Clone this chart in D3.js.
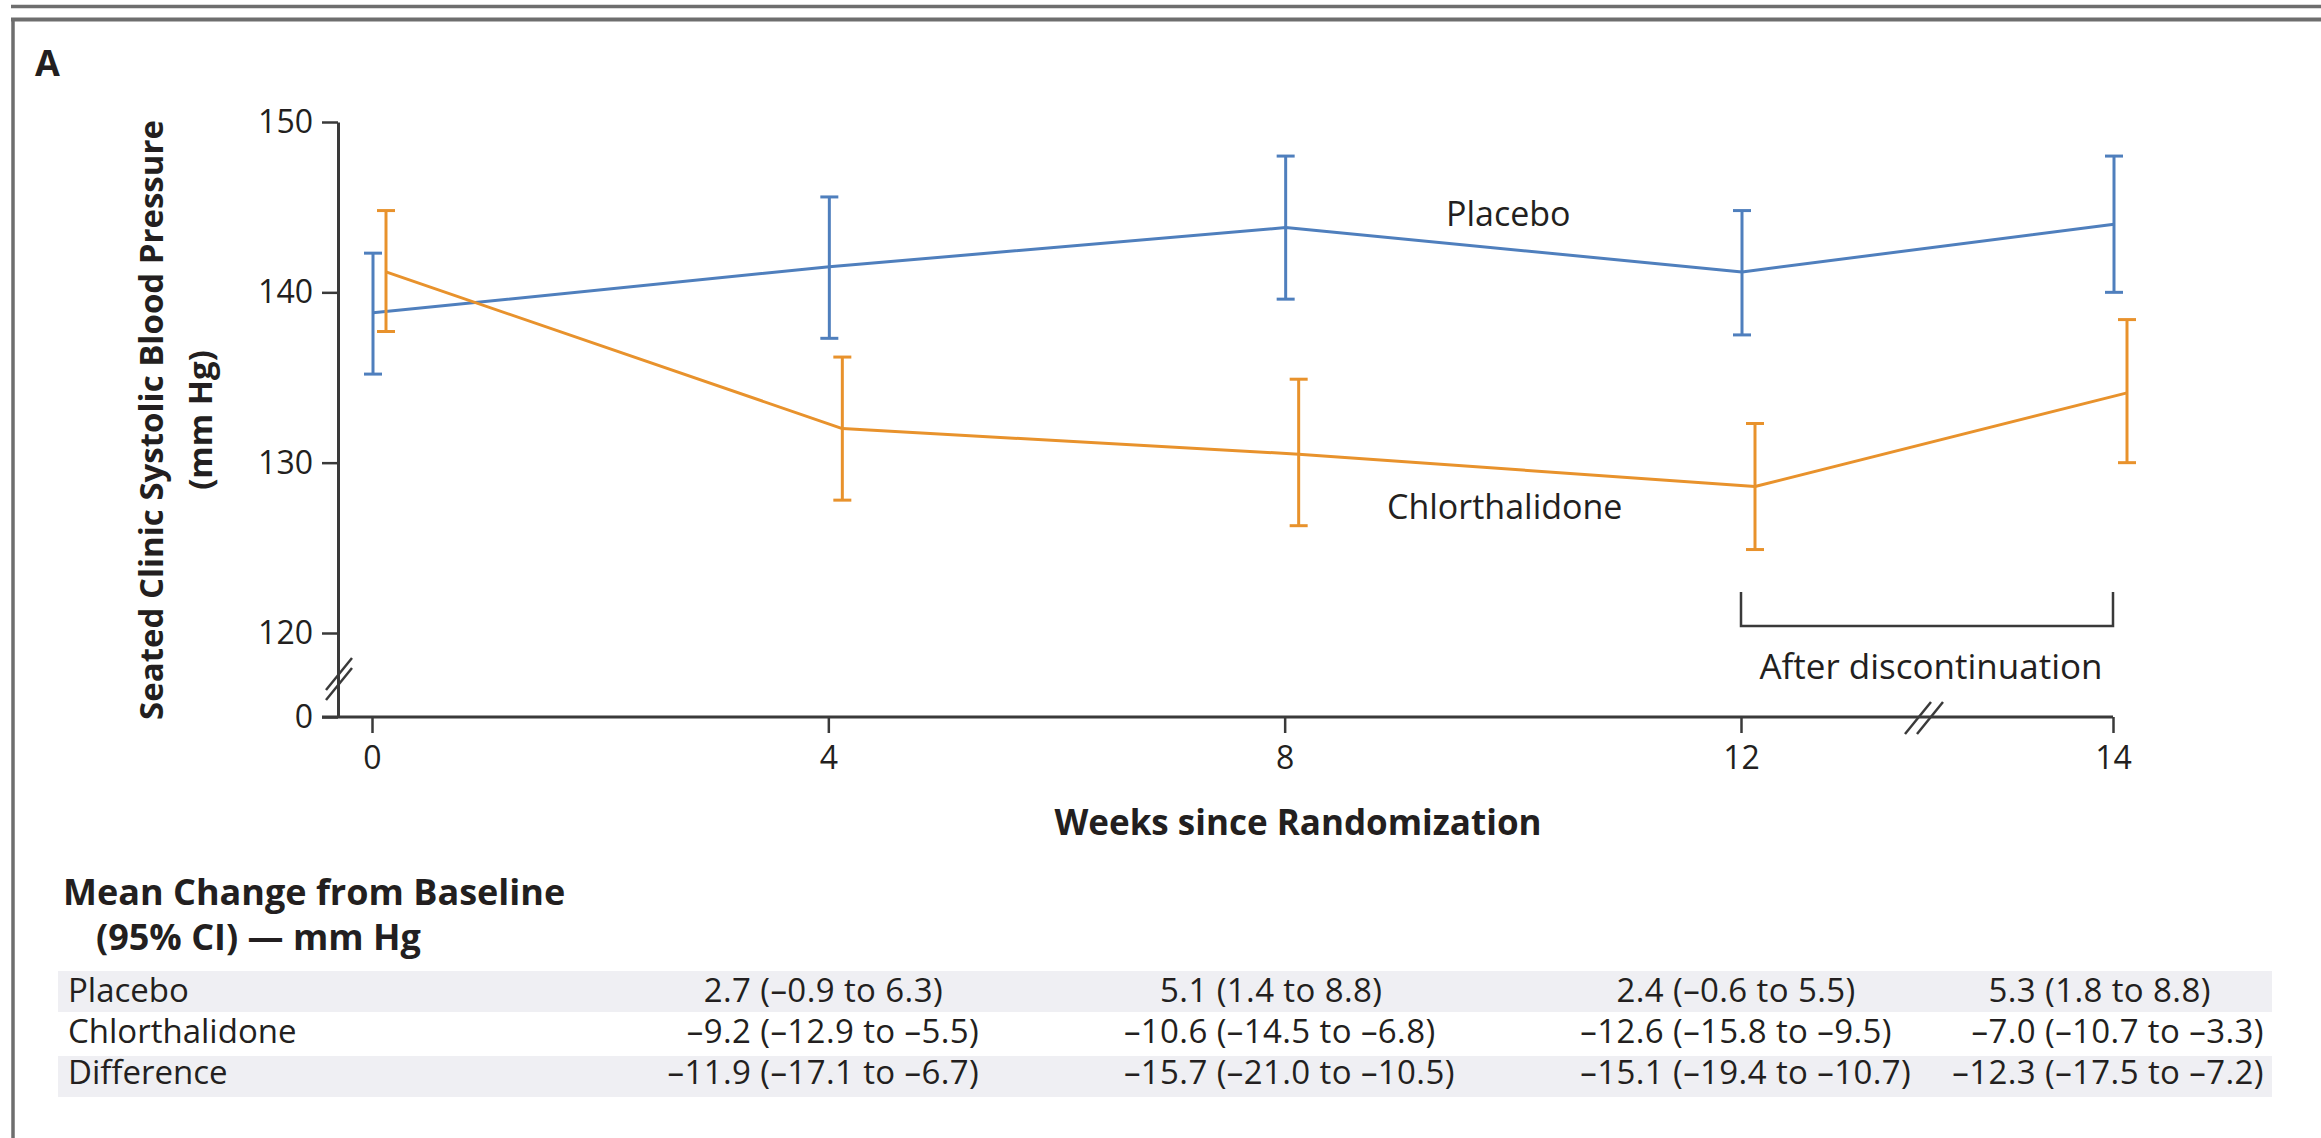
<!DOCTYPE html>
<html>
<head>
<meta charset="utf-8">
<script src="https://cdn.jsdelivr.net/npm/d3@7"></script>
<style>
  html, body { margin: 0; padding: 0; background: #ffffff; }
  svg { display: block; }
  text { font-family: "Open Sans", "Noto Sans", sans-serif; fill: #231f20; }
</style>
</head>
<body>
<svg id="chart" width="2321" height="1138"></svg>
<script>
// ---- data ----
const weeks = [0, 4, 8, 12, 14];
const xTickLabels = ["0", "4", "8", "12", "14"];
const yTicks = [0, 120, 130, 140, 150];

const placeboMean = [138.8, 141.5, 143.8, 141.2, 144.0];
const placeboLow  = [135.2, 137.3, 139.6, 137.5, 140.0];
const placeboHigh = [142.3, 145.6, 148.0, 144.8, 148.0];

const chlorMean = [141.2, 132.0, 130.5, 128.6, 134.1];
const chlorLow  = [137.7, 127.8, 126.3, 124.9, 130.0];
const chlorHigh = [144.8, 136.2, 134.9, 132.3, 138.4];

// mean change from baseline table (weeks 4, 8, 12, 14)
const tableWeeks = [4, 8, 12, 14];
const tableRows = ["Placebo", "Chlorthalidone", "Difference"];
const changeEstimate = [
  [2.7, 5.1, 2.4, 5.3],
  [-9.2, -10.6, -12.6, -7.0],
  [-11.9, -15.7, -15.1, -12.3]
];
const changeLower = [
  [-0.9, 1.4, -0.6, 1.8],
  [-12.9, -14.5, -15.8, -10.7],
  [-17.1, -21.0, -19.4, -17.5]
];
const changeUpper = [
  [6.3, 8.8, 5.5, 8.8],
  [-5.5, -6.8, -9.5, -3.3],
  [-6.7, -10.5, -10.7, -7.2]
];

// ---- setup ----
const svg = d3.select("#chart");
const frameColor = "#6e6e6e";
const axisColor = "#3a3a3a";
const blue = "#4f7fbd";
const orange = "#e8922c";

// broken axes: piecewise linear scales
const x = d3.scaleLinear().domain([0, 12, 14]).range([372, 1741, 2113]);
const y = d3.scaleLinear().domain([0, 120, 150]).range([717, 633, 122]);

// ---- frame ----
svg.append("line").attr("x1", 11).attr("x2", 2321).attr("y1", 6.5).attr("y2", 6.5)
  .attr("stroke", frameColor).attr("stroke-width", 3.5);
svg.append("line").attr("x1", 11).attr("x2", 2321).attr("y1", 19.5).attr("y2", 19.5)
  .attr("stroke", frameColor).attr("stroke-width", 4);
svg.append("line").attr("x1", 13).attr("x2", 13).attr("y1", 18).attr("y2", 1138)
  .attr("stroke", frameColor).attr("stroke-width", 3.5);

svg.append("text").attr("x", 35).attr("y", 76)
  .attr("font-size", 36).attr("font-weight", 700).text("A");

// ---- axes ----
const yAxis = d3.axisLeft(y).tickValues(yTicks).tickSize(16).tickSizeOuter(0).tickPadding(9)
  .tickFormat(d3.format("d"));
const gy = svg.append("g").attr("transform", "translate(338,0)").call(yAxis);
gy.select(".domain").attr("stroke", axisColor).attr("stroke-width", 3);
gy.selectAll(".tick line").attr("stroke", axisColor).attr("stroke-width", 2.5);
gy.selectAll(".tick text").attr("font-size", 32).attr("fill", "#231f20")
  .attr("font-family", "Open Sans, sans-serif").attr("dy", "0.33em");

const xAxis = d3.axisBottom(x).tickValues(weeks).tickSize(16).tickSizeOuter(0).tickPadding(13)
  .tickFormat((d, i) => xTickLabels[i]);
const gx = svg.append("g").attr("transform", "translate(0," + y(0) + ")").call(xAxis);
gx.select(".domain").remove();
gx.selectAll(".tick line").attr("stroke", axisColor).attr("stroke-width", 2.5);
gx.selectAll(".tick text").attr("font-size", 32).attr("fill", "#231f20")
  .attr("font-family", "Open Sans, sans-serif");
svg.append("line").attr("x1", 322).attr("x2", x(14)).attr("y1", y(0)).attr("y2", y(0))
  .attr("stroke", axisColor).attr("stroke-width", 3);

// break marks on both axes
function breakMark(cx, cy, sep, horizontal) {
  const g = svg.append("g");
  [-1, 1].forEach(s => {
    const ox = horizontal ? s * sep : 0;
    const oy = horizontal ? 0 : s * sep;
    g.append("line")
      .attr("x1", cx + ox - 13).attr("y1", cy + oy + 16)
      .attr("x2", cx + ox + 13).attr("y2", cy + oy - 16)
      .attr("stroke", axisColor).attr("stroke-width", 2.5);
  });
}
breakMark(339, 679, 5, false);
breakMark(1924, 718, 6, true);

// ---- series ----
function drawSeries(mean, low, high, color, dx) {
  const g = svg.append("g");
  const line = d3.line().x((d, i) => x(weeks[i]) + dx).y(d => y(d));
  g.append("path").datum(mean).attr("d", line)
    .attr("fill", "none").attr("stroke", color).attr("stroke-width", 3)
    .attr("stroke-linejoin", "round");
  weeks.forEach((w, i) => {
    const cx = x(w) + dx;
    g.append("line").attr("x1", cx).attr("x2", cx).attr("y1", y(low[i])).attr("y2", y(high[i]))
      .attr("stroke", color).attr("stroke-width", 3);
    [low[i], high[i]].forEach(v => {
      g.append("line").attr("x1", cx - 9).attr("x2", cx + 9).attr("y1", y(v)).attr("y2", y(v))
        .attr("stroke", color).attr("stroke-width", 3);
    });
  });
}
drawSeries(placeboMean, placeboLow, placeboHigh, blue, 1);
drawSeries(chlorMean, chlorLow, chlorHigh, orange, 14);

svg.append("text").attr("x", 1446).attr("y", 226).attr("font-size", 34).text("Placebo");
svg.append("text").attr("x", 1387).attr("y", 519).attr("font-size", 34).text("Chlorthalidone");

// discontinuation bracket
svg.append("path")
  .attr("d", `M${x(12)},592 V626 H${x(14)} V592`)
  .attr("fill", "none").attr("stroke", axisColor).attr("stroke-width", 2.5);
svg.append("text").attr("x", (x(12) + x(14)) / 2 + 4).attr("y", 679)
  .attr("text-anchor", "middle").attr("font-size", 35).text("After discontinuation");

// axis titles
svg.append("text").attr("transform", "translate(163,420) rotate(-90)")
  .attr("text-anchor", "middle").attr("font-size", 33).attr("font-weight", 700)
  .text("Seated Clinic Systolic Blood Pressure");
svg.append("text").attr("transform", "translate(212,420) rotate(-90)")
  .attr("text-anchor", "middle").attr("font-size", 33).attr("font-weight", 700).text("(mm Hg)");

svg.append("text").attr("x", 1298).attr("y", 835).attr("text-anchor", "middle")
  .attr("font-size", 35).attr("font-weight", 700).text("Weeks since Randomization");

// ---- table ----
svg.append("text").attr("x", 63).attr("y", 905).attr("font-size", 36).attr("font-weight", 700)
  .text("Mean Change from Baseline");
svg.append("text").attr("x", 96).attr("y", 950).attr("font-size", 36).attr("font-weight", 700)
  .text("(95% CI) \u2014 mm Hg");

const rowBaseline = [1002, 1043, 1084];
const bandTop = [971, null, 1056];
const valueSize = 33;
const fmt = v => d3.format(".1f")(v).replace("-", "\u2013").replace("\u2212", "\u2013");

tableRows.forEach((r, ri) => {
  if (bandTop[ri] !== null) {
    svg.append("rect").attr("x", 58).attr("y", bandTop[ri]).attr("width", 2214).attr("height", 41)
      .attr("fill", "#efeff3");
  }
});

// estimate widths, measured so that each cell lines up on its opening parenthesis
const probe = svg.append("text").attr("font-size", valueSize).attr("letter-spacing", 0.4)
  .attr("visibility", "hidden");
function measure(s) { probe.text(s); return probe.node().getComputedTextLength(); }
const spaceWidth = measure("0 0") - measure("00");

tableRows.forEach((r, ri) => {
  svg.append("text").attr("x", 68).attr("y", rowBaseline[ri]).attr("font-size", 33).text(r);
  tableWeeks.forEach((w, ci) => {
    const parenX = x(w) - 68;
    const est = fmt(changeEstimate[ri][ci]);
    const startX = parenX - measure(est) - spaceWidth;
    svg.append("text").attr("x", startX).attr("y", rowBaseline[ri])
      .attr("font-size", valueSize).attr("letter-spacing", 0.4)
      .text(est + " (" + fmt(changeLower[ri][ci]) + " to " + fmt(changeUpper[ri][ci]) + ")");
  });
});
probe.remove();
</script>
</body>
</html>
